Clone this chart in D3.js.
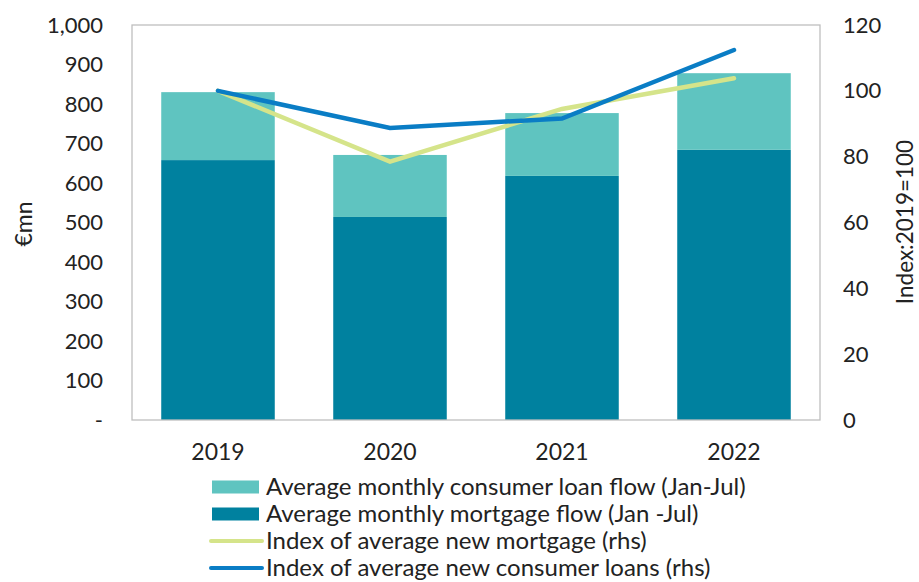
<!DOCTYPE html>
<html>
<head>
<meta charset="utf-8">
<script src="https://cdn.jsdelivr.net/npm/d3@7"></script>
<style>
  body { margin: 0; background: #fff; }
  svg { font-family: Lato, "Open Sans", sans-serif; }
</style>
</head>
<body>
<div id="chart"></div>
<script>
// data
const years = ["2019", "2020", "2021", "2022"];
const mortgageFlow = [658, 514, 618, 684];
const consumerFlow = [172, 157, 159, 194];
const mortgageIndex = [100, 78.5, 94.5, 103.8];
const consumerIndex = [100, 88.7, 91.6, 112.4];
const leftTicks = [0, 100, 200, 300, 400, 500, 600, 700, 800, 900, 1000];
const rightTicks = [0, 20, 40, 60, 80, 100, 120];

const width = 919, height = 582;
const m = { left: 132, right: 820, top: 25, bottom: 420 };

const svg = d3.select("#chart").append("svg")
    .attr("width", width)
    .attr("height", height);

const x = d3.scaleBand().domain(years).range([m.left, m.right]).paddingInner(0.34).paddingOuter(0.17);
const yL = d3.scaleLinear().domain([0, 1000]).range([m.bottom, m.top]);
const yR = d3.scaleLinear().domain([0, 120]).range([m.bottom, m.top]);

const col = {
    consumer: "#5fc4c0",
    mortgage: "#00819f",
    mIdx: "#d5e48a",
    cIdx: "#0a7dc5"
};

// bars
svg.append("g").selectAll("rect")
    .data(years)
    .join("rect")
    .attr("x", d => x(d))
    .attr("width", x.bandwidth())
    .attr("y", (d, i) => yL(mortgageFlow[i]))
    .attr("height", (d, i) => yL(0) - yL(mortgageFlow[i]))
    .attr("fill", col.mortgage);

svg.append("g").selectAll("rect")
    .data(years)
    .join("rect")
    .attr("x", d => x(d))
    .attr("width", x.bandwidth())
    .attr("y", (d, i) => yL(mortgageFlow[i] + consumerFlow[i]))
    .attr("height", (d, i) => yL(mortgageFlow[i]) - yL(mortgageFlow[i] + consumerFlow[i]))
    .attr("fill", col.consumer);

// frame
svg.append("rect")
    .attr("x", m.left).attr("y", m.top)
    .attr("width", m.right - m.left).attr("height", m.bottom - m.top)
    .attr("fill", "none").attr("stroke", "#bfbfbf").attr("stroke-width", 1.3);

// lines
const line = vals => d3.line()
    .x((d, i) => x(years[i]) + x.bandwidth() / 2)
    .y(d => yR(d))(vals);

svg.append("path").attr("d", line(mortgageIndex))
    .attr("fill", "none").attr("stroke", col.mIdx).attr("stroke-width", 4.5).attr("stroke-linecap", "round");
svg.append("path").attr("d", line(consumerIndex))
    .attr("fill", "none").attr("stroke", col.cIdx).attr("stroke-width", 4.5).attr("stroke-linecap", "round");

// axes
const fmt = d => d === 0 ? "-" : d3.format(",")(d);
const axL = svg.append("g")
    .attr("transform", `translate(${m.left - 29},0)`)
    .call(d3.axisLeft(yL).tickValues(leftTicks).tickFormat(fmt).tickSize(0).tickPadding(0));
const axR = svg.append("g")
    .attr("transform", `translate(${m.right + 23},0)`)
    .call(d3.axisRight(yR).tickValues(rightTicks).tickSize(0).tickPadding(0));
const axX = svg.append("g")
    .attr("transform", `translate(0,${m.bottom})`)
    .call(d3.axisBottom(x).tickSize(0).tickPadding(0));

[axL, axR, axX].forEach(a => {
    a.select(".domain").remove();
    a.selectAll("text").attr("font-size", 22).attr("fill", "#222").attr("font-family", "Lato, sans-serif");
});
axX.selectAll("text").attr("font-size", 23).attr("y", 40).attr("dy", 0);

svg.append("text")
    .attr("transform", "translate(32,224) rotate(-90)")
    .attr("text-anchor", "middle")
    .attr("font-size", 23).attr("fill", "#222")
    .text("€mn");
svg.append("text")
    .attr("transform", "translate(913,222) rotate(-90)")
    .attr("text-anchor", "middle")
    .attr("font-size", 22.5).attr("fill", "#222")
    .text("Index:2019=100");

// legend
const legend = [
    { label: "Average monthly consumer loan flow (Jan-Jul)", color: col.consumer, type: "rect" },
    { label: "Average monthly mortgage flow (Jan -Jul)", color: col.mortgage, type: "rect" },
    { label: "Index of average new mortgage (rhs)", color: col.mIdx, type: "line" },
    { label: "Index of average new consumer loans (rhs)", color: col.cIdx, type: "line" }
];
const lg = svg.append("g").selectAll("g")
    .data(legend)
    .join("g")
    .attr("transform", (d, i) => `translate(210,${487 + i * 27})`);
lg.filter(d => d.type === "rect").append("rect")
    .attr("x", 2).attr("y", -6.5).attr("width", 47).attr("height", 13)
    .attr("fill", d => d.color);
lg.filter(d => d.type === "line").append("line")
    .attr("x1", 1).attr("x2", 52).attr("y1", 0).attr("y2", 0)
    .attr("stroke", d => d.color).attr("stroke-width", 4).attr("stroke-linecap", "round");
lg.append("text")
    .attr("x", 56).attr("y", 0).attr("dy", "0.35em")
    .attr("font-size", 24).attr("fill", "#222")
    .text(d => d.label);
</script>
</body>
</html>
